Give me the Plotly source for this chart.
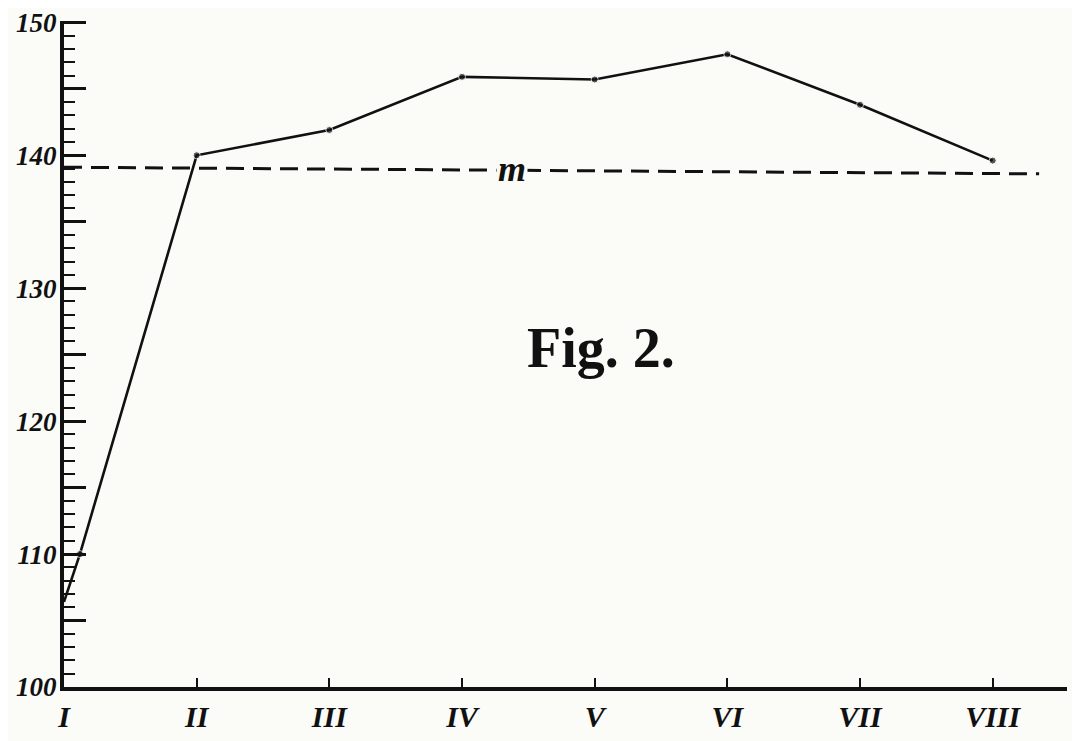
import plotly.graph_objects as go

# positions along the abscissa (I .. VIII -> 0 .. 7) and the measured values
x_pos = [0, 0.12, 1, 2, 3, 4, 5, 6, 7]
values = [106.4, 110.0, 140.0, 141.9, 145.9, 145.7, 147.6, 143.8, 139.6]

x_ticks = [0, 1, 2, 3, 4, 5, 6, 7]
x_labels = ["I", "II", "III", "IV", "V", "VI", "VII", "VIII"]

y_ticks = [100, 105, 110, 115, 120, 125, 130, 135, 140, 145, 150]
y_labels = ["100", "", "110", "", "120", "", "130", "", "140", "", "150"]

# mean line "m" (drawn slightly tilted as in the print)
m_x = [0, 7.35]
m_y = [139.1, 138.6]

ink = "#111111"
paper = "#fbfbf8"
serif = "Liberation Serif, DejaVu Serif, serif"

fig = go.Figure()

fig.add_trace(go.Scatter(
    x=m_x, y=m_y, mode="lines",
    line=dict(color=ink, width=3, dash="18px,9px"),
    hoverinfo="skip", showlegend=False
))

fig.add_trace(go.Scatter(
    x=x_pos, y=values, mode="lines+markers",
    line=dict(color=ink, width=2.6),
    marker=dict(color=ink, size=[0] + [7] * (len(x_pos) - 1)),
    showlegend=False
))

fig.add_annotation(x=3.38, y=138.95, text="<b><i>m</i></b>", showarrow=False,
                   font=dict(family=serif, size=36, color=ink), bgcolor=paper,
                   xanchor="center", yanchor="middle")

fig.add_annotation(x=4.05, y=125.5, text="<b>Fig. 2.</b>", showarrow=False,
                   font=dict(family=serif, size=56, color=ink),
                   xanchor="center", yanchor="middle")

fig.update_layout(
    width=1080, height=741,
    margin=dict(l=56, r=21, t=13, b=62),
    paper_bgcolor=paper, plot_bgcolor=paper,
    showlegend=False,
)

fig.update_xaxes(
    range=[0, 7.56], showgrid=False, zeroline=False, automargin=False,
    showline=True, linecolor=ink, linewidth=4,
    tickmode="array", tickvals=x_ticks, ticktext=x_labels,
    ticks="inside", ticklen=9, tickwidth=2, tickcolor=ink,
    tickfont=dict(family=serif, size=30, color=ink, weight="bold", style="italic"),
)

fig.update_yaxes(
    range=[100, 150.1], showgrid=False, zeroline=False, automargin=False,
    showline=True, linecolor=ink, linewidth=4,
    tickmode="array", tickvals=y_ticks, ticktext=y_labels,
    ticks="inside", ticklen=22, tickwidth=3, tickcolor=ink,
    tickfont=dict(family=serif, size=27, color=ink, weight="bold", style="italic"),
    ticklabeloverflow="allow", ticklabelstandoff=-2,
    minor=dict(dtick=1, ticks="inside", ticklen=11, tickwidth=2, tickcolor=ink),
)

fig.write_html("out.html")
